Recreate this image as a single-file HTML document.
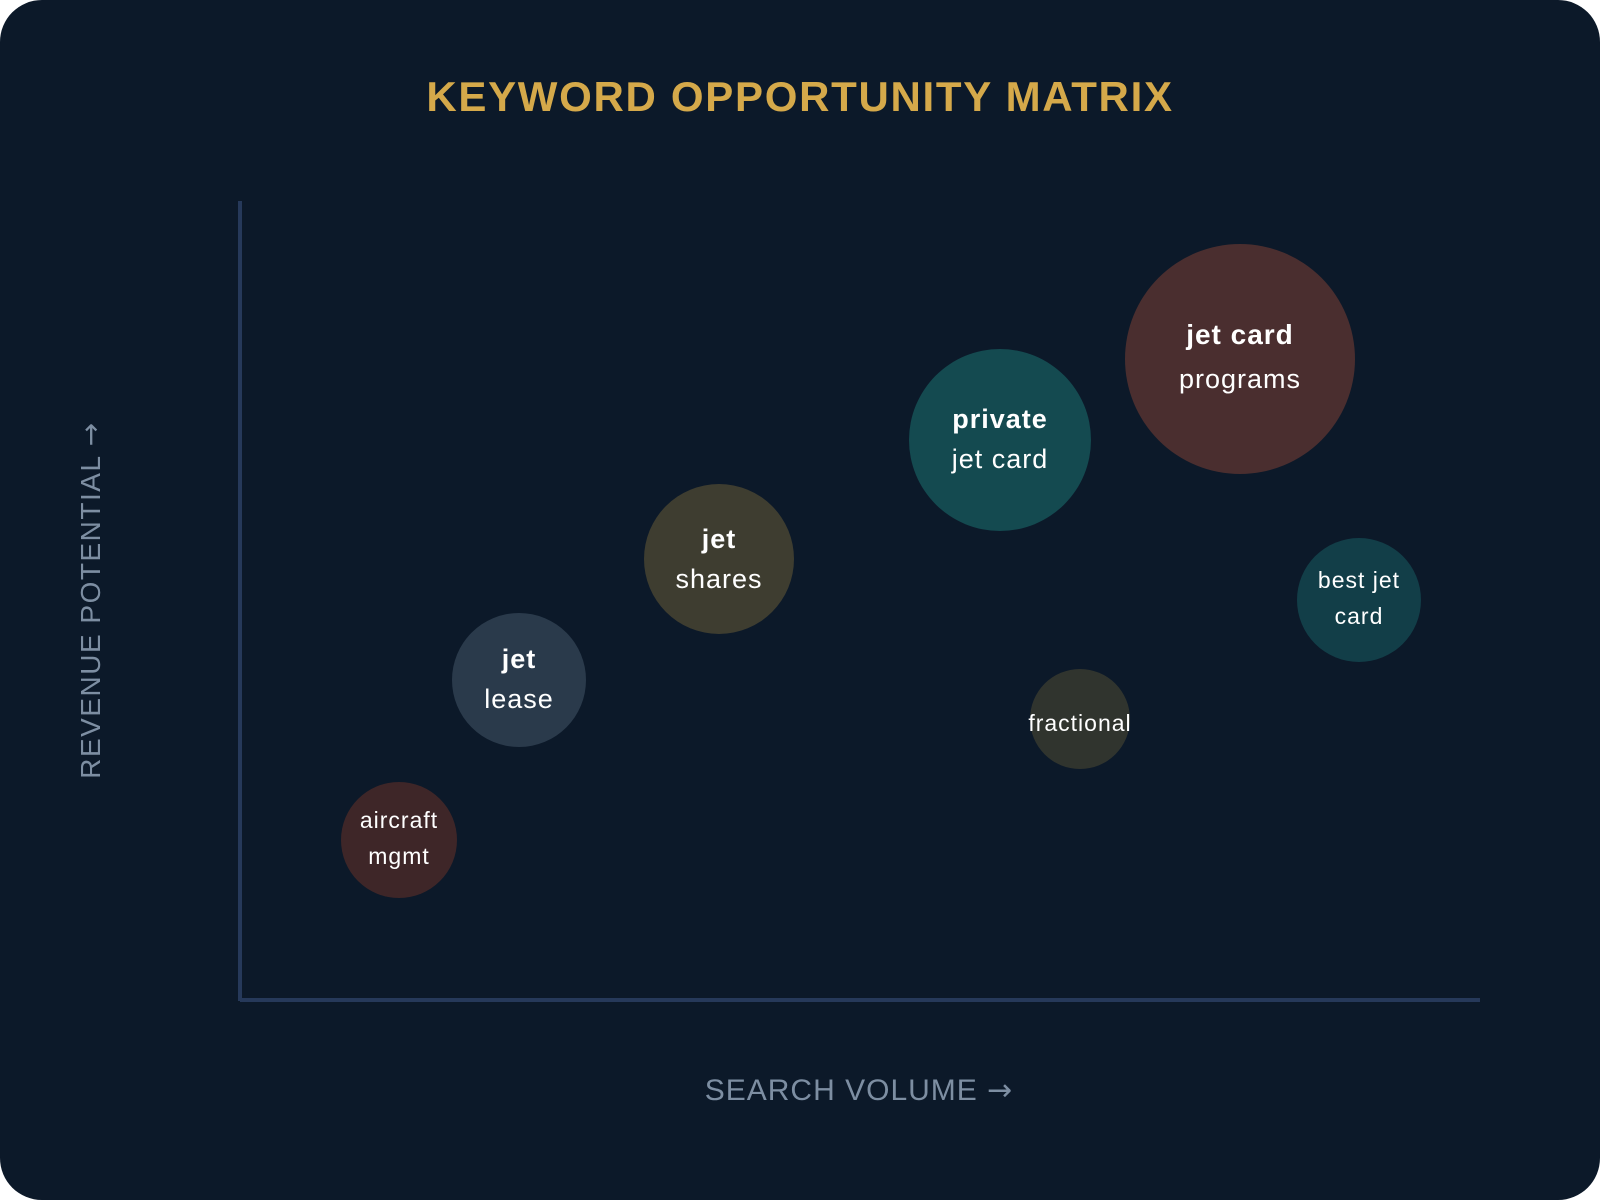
<!DOCTYPE html>
<html><head><meta charset="utf-8"><style>
html,body{margin:0;padding:0;background:#fff;}
svg{display:block;}
</style></head><body>
<svg width="1600" height="1200" viewBox="0 0 1600 1200" xmlns="http://www.w3.org/2000/svg" font-family="'Liberation Sans', 'DejaVu Sans', sans-serif">
<rect x="0" y="0" width="1600" height="1200" rx="42" fill="#0c1929"/>
<text x="800" y="111" text-anchor="middle" font-size="42" font-weight="bold" fill="#d5a94a" letter-spacing="1.7">KEYWORD OPPORTUNITY MATRIX</text>
<line x1="240" y1="201" x2="240" y2="1001" stroke="#26395a" stroke-width="4"/>
<line x1="240" y1="1000" x2="1480" y2="1000" stroke="#26395a" stroke-width="4"/>
<text x="859" y="1100" text-anchor="middle" font-size="30" fill="#7d8ea2" letter-spacing="1">SEARCH VOLUME <tspan font-family="'DejaVu Sans', sans-serif">→</tspan></text>
<text transform="translate(100,600) rotate(-90)" text-anchor="middle" font-size="28" fill="#7d8ea2" letter-spacing="1.5">REVENUE POTENTIAL <tspan font-family="'DejaVu Sans', sans-serif">→</tspan></text>

<g text-anchor="middle" fill="#fff" letter-spacing="1">
<circle cx="1240" cy="359" r="115" fill="#4a2e2f"/>
<text x="1240" y="344" font-size="28" font-weight="bold">jet card</text>
<text x="1240" y="388" font-size="27">programs</text>

<circle cx="1000" cy="440" r="91" fill="#144a50"/>
<text x="1000" y="428" font-size="27" font-weight="bold">private</text>
<text x="1000" y="468" font-size="27">jet card</text>

<circle cx="719" cy="559" r="75" fill="#3e3d30"/>
<text x="719" y="548" font-size="27" font-weight="bold">jet</text>
<text x="719" y="588" font-size="27">shares</text>

<circle cx="519" cy="680" r="67" fill="#2a3a4b"/>
<text x="519" y="668" font-size="27" font-weight="bold">jet</text>
<text x="519" y="708" font-size="27">lease</text>

<circle cx="399" cy="840" r="58" fill="#3e2628"/>
<text x="399" y="828" font-size="23">aircraft</text>
<text x="399" y="864" font-size="23">mgmt</text>

<circle cx="1080" cy="719" r="50" fill="#30342e"/>
<text x="1080" y="731" font-size="23">fractional</text>

<circle cx="1359" cy="600" r="62" fill="#123e48"/>
<text x="1359" y="588" font-size="23">best jet</text>
<text x="1359" y="624" font-size="23">card</text>
</g>
</svg>
</body></html>
